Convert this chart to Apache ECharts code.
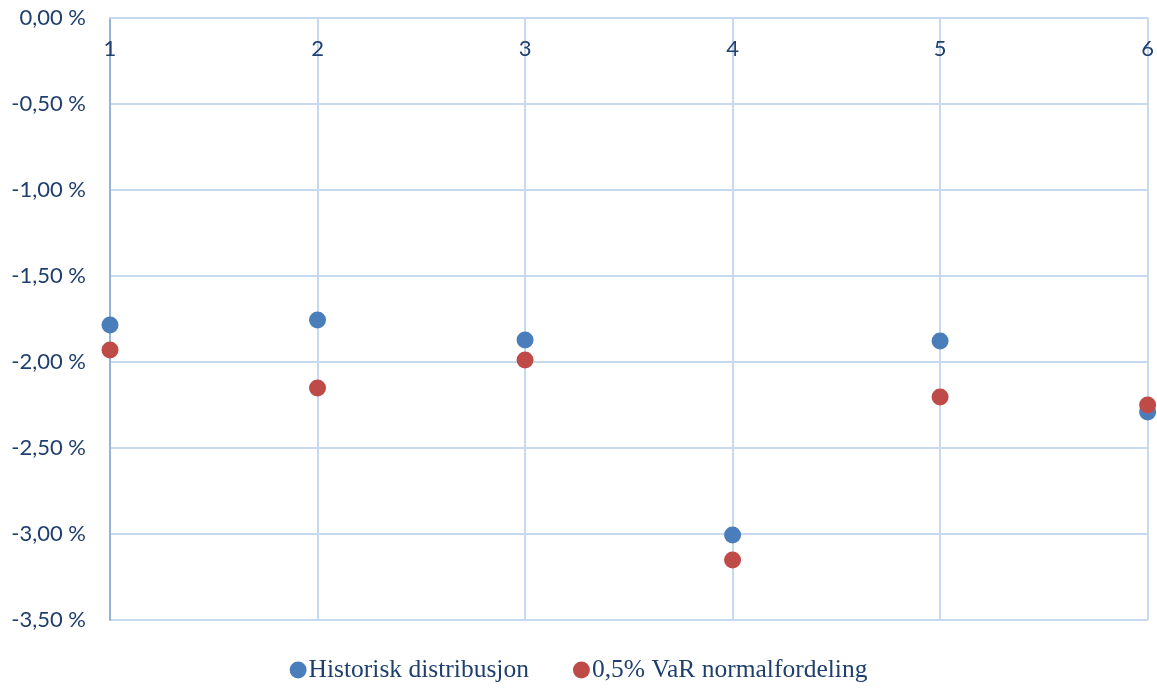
<!DOCTYPE html>
<html><head><meta charset="utf-8">
<script src="https://cdn.jsdelivr.net/npm/echarts@6/dist/echarts.min.js"></script>
<style>html,body{margin:0;padding:0;background:#fff}#c{width:1157px;height:688px}</style>
</head><body><div id="c"></div>
<script>
const xValues = [1, 2, 3, 4, 5, 6];
const historisk = [-1.785, -1.756, -1.872, -3.006, -1.878, -2.291];
const varNormal = [-1.930, -2.151, -1.988, -3.151, -2.203, -2.250];
const seriesNames = ['Historisk distribusjon', '0,5% VaR normalfordeling'];

const chart = echarts.init(document.getElementById('c'));
const txt = '#1f3f6e';
chart.setOption({
  animation: false,
  grid: {left: 110, right: 9, top: 18, bottom: 68},
  legend: {
    bottom: 0, left: 'center', itemGap: 44, itemWidth: 17, itemHeight: 17, icon: 'circle',
    textStyle: {fontFamily: 'Liberation Serif', fontSize: 25.5, color: txt, padding: [0, 0, 0, -3]},
    data: seriesNames
  },
  xAxis: {
    type: 'value', position: 'top', min: 1, max: 6, interval: 1,
    axisLine: {show: true, onZero: false, lineStyle: {color: '#c6d9f0', width: 2}},
    axisTick: {show: false},
    axisLabel: {inside: true, margin: 20, fontFamily: 'Lato', fontSize: 22, color: txt},
    splitLine: {show: true, lineStyle: {color: '#c6d9f0', width: 2}}
  },
  yAxis: {
    type: 'value', min: -3.5, max: 0, interval: 0.5,
    axisLine: {show: true, onZero: false, lineStyle: {color: '#95b3d7', width: 2}},
    axisTick: {show: false},
    axisLabel: {margin: 24, fontFamily: 'Lato', fontSize: 22, color: txt,
      formatter: v => v.toFixed(2).replace('.', ',') + ' %'},
    splitLine: {show: true, lineStyle: {color: '#c6d9f0', width: 2}}
  },
  series: [
    {name: seriesNames[0], type: 'scatter', symbolSize: 17, itemStyle: {color: '#4a7ebb', opacity: 1},
      data: xValues.map((x, i) => [x, historisk[i]])},
    {name: seriesNames[1], type: 'scatter', symbolSize: 17, itemStyle: {color: '#be4b48', opacity: 1},
      data: xValues.map((x, i) => [x, varNormal[i]])}
  ]
});
</script></body></html>
